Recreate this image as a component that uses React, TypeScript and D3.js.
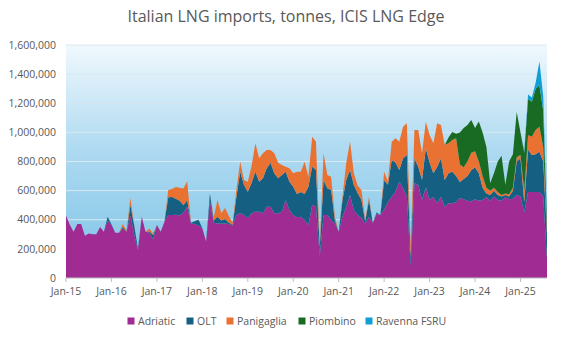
import React from "react";
import * as d3 from "d3";

const seriesNames = ["Adriatic", "OLT", "Panigaglia", "Piombino", "Ravenna FSRU"];
const seriesColors = ["#A02B93", "#156082", "#E97132", "#196B24", "#0F9ED5"];

// monthly values (thousand tonnes), Jan-15 .. Aug-25
const adriatic = [
  430, 365, 318, 370, 370, 290, 305, 300, 300, 350, 318, 395,
  364, 311, 311, 340, 320, 430, 300, 192, 420, 318, 310, 265,
  364, 318, 387, 432, 432, 435, 430, 450, 490, 375, 370, 360,
  341, 250, 530, 380, 375, 375, 375, 370, 360, 433, 444, 433,
  412, 444, 455, 455, 444, 490, 490, 444, 444, 455, 536, 466,
  433, 417, 420, 398, 364, 501, 490, 150, 433, 433, 398, 375,
  318, 420, 490, 570, 466, 433, 412, 375, 420, 378, 440, 433,
  470, 520, 558, 593, 661, 616, 558, 80, 650, 639, 536, 621,
  536, 558, 513, 558, 490, 513, 513, 520, 550, 540, 530, 525,
  540, 530, 535, 555, 530, 560, 535, 530, 555, 540, 545, 570,
  560, 450, 590, 590, 590, 590, 560, 130,
];
const olt = [
  0, 0, 0, 0, 0, 0, 0, 0, 0, 0, 0, 25,
  5, 0, 0, 10, 0, 70, 60, 10, 0, 0, 10, 30,
  0, 0, 0, 122, 125, 110, 100, 50, 45, 5, 20, 40,
  0, 0, 50, 15, 45, 20, 30, 10, 5, 125, 286, 206,
  181, 208, 275, 206, 241, 263, 302, 275, 241, 252, 194, 195,
  194, 160, 170, 179, 263, 263, 252, 60, 240, 183, 206, 20,
  0, 116, 183, 172, 173, 150, 124, 15, 116, 0, 10, 0,
  200, 120, 252, 200, 81, 206, 287, 60, 172, 125, 137, 270,
  257, 161, 250, 264, 183, 206, 217, 180, 110, 140, 170, 215,
  220, 190, 85, 25, 40, 40, 35, 30, 15, 20, 55, 230,
  260, 70, 290, 255, 260, 277, 240, 170,
];
const panigaglia = [
  0, 0, 0, 0, 0, 0, 0, 0, 0, 0, 0, 0,
  0, 0, 0, 20, 5, 50, 5, 0, 0, 0, 20, 10,
  0, 0, 0, 50, 55, 80, 90, 115, 130, 0, 0, 0,
  0, 0, 0, 20, 115, 50, 75, 45, 15, 50, 70, 34,
  68, 117, 195, 161, 171, 126, 87, 137, 107, 69, 34, 92,
  92, 153, 140, 222, 69, 206, 194, 10, 183, 91, 92, 26,
  0, 22, 119, 194, 80, 53, 68, 8, 22, 0, 0, 0,
  60, 25, 126, 166, 194, 217, 217, 80, 194, 252, 183, 182,
  189, 206, 300, 229, 240, 206, 218, 260, 120, 80, 100, 120,
  110, 80, 80, 40, 30, 20, 20, 10, 10, 15, 20, 30,
  25, 80, 100, 125, 166, 172, 100, 30,
];
const piombino = [
  ...new Array(101).fill(0),
  40, 55, 30, 220, 270, 250, 225,
  160, 275, 300, 280, 50, 100, 210, 270, 60, 225, 230, 310,
  155, 260, 250, 240, 284, 286, 250, 40,
];
const ravenna = [
  ...new Array(121).fill(0),
  10, 30, 30, 40, 161, 100, 10,
];

const xTickLabels = ["Jan-15", "Jan-16", "Jan-17", "Jan-18", "Jan-19", "Jan-20", "Jan-21", "Jan-22", "Jan-23", "Jan-24", "Jan-25"];
const yTicks = [0, 200000, 400000, 600000, 800000, 1000000, 1200000, 1400000, 1600000];

const W = 573, H = 340;
const L = 66, R = 547, T = 45, B = 278;
const FONT = "'Open Sans', 'Noto Sans', sans-serif";

export default function App() {
  const seriesArrays = [adriatic, olt, panigaglia, piombino, ravenna];
  const n = adriatic.length;
  const rows = d3.range(n).map((i) => {
    const r: any = { i };
    seriesNames.forEach((s, k) => (r[s] = seriesArrays[k][i] * 1000));
    return r;
  });
  const stacked = d3.stack().keys(seriesNames)(rows);
  const x = d3.scaleLinear().domain([0, n - 1]).range([L, R]);
  const y = d3.scaleLinear().domain([0, 1600000]).range([B, T]);
  const area = d3
    .area<any>()
    .x((d) => x(d.data.i))
    .y0((d) => y(d[0]))
    .y1((d) => y(d[1]))
    .curve(d3.curveLinear);
  const fmt = d3.format(",");
  const legendX = [131, 190, 230, 302, 369];

  return (
    <svg width={W} height={H} style={{ position: "fixed", left: 0, top: 0, background: "#fff" }} fontFamily={FONT}>
      <defs>
        <linearGradient id="bg" x1="0" y1="0" x2="0" y2="1">
          <stop offset="0%" stopColor="#F0F8FD" />
          <stop offset="45%" stopColor="#AEDAF1" />
          <stop offset="100%" stopColor="#7CC3E6" />
        </linearGradient>
      </defs>
      <text x={286} y={22} textAnchor="middle" fontSize={16} fill="#595959">
        Italian LNG imports, tonnes, ICIS LNG Edge
      </text>
      <rect x={L} y={T} width={R - L} height={B - T} fill="url(#bg)" />
      {yTicks.map((t) => (
        <g key={t}>
          {t > 0 && <line x1={L} x2={R} y1={y(t)} y2={y(t)} stroke="#D8E8F0" strokeWidth={1} />}
          <text x={56} y={y(t)} dy="0.35em" textAnchor="end" fontSize={10.5} fill="#595959">
            {fmt(t)}
          </text>
        </g>
      ))}
      {stacked.map((s, k) => (
        <path key={s.key} d={area(s as any) || ""} fill={seriesColors[k]} />
      ))}
      <line x1={L} x2={R} y1={B} y2={B} stroke="#BFBFBF" />
      {xTickLabels.map((lab, j) => (
        <g key={lab}>
          <line x1={x(j * 12)} x2={x(j * 12)} y1={B} y2={B + 4} stroke="#BFBFBF" />
          <text x={x(j * 12)} y={295} textAnchor="middle" fontSize={10.5} fill="#595959">
            {lab}
          </text>
        </g>
      ))}
      {seriesNames.map((s, k) => (
        <g key={s} transform={`translate(${legendX[k]},321)`}>
          <rect x={-3.5} y={-3.5} width={7} height={7} fill={seriesColors[k]} />
          <text x={7} y={0} dy="0.35em" fontSize={10.5} fill="#595959">
            {s}
          </text>
        </g>
      ))}
    </svg>
  );
}
